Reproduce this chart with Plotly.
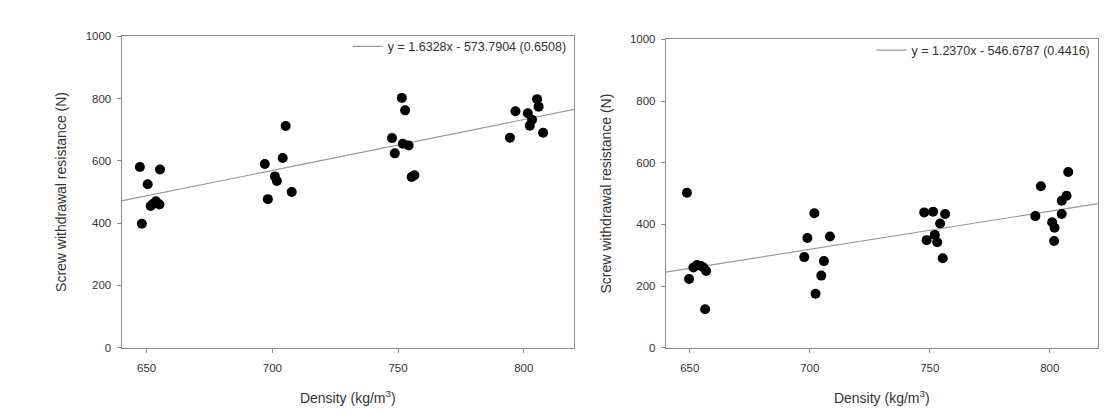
import plotly.graph_objects as go

# Left panel data
left_density = [647.3, 650.4, 655.3, 651.6, 653.7, 655.1, 648.1, 652.6,
                697.0, 701.0, 701.8, 704.1, 705.3, 698.2, 707.7,
                751.5, 752.8, 747.6, 748.7, 751.9, 754.2, 755.4, 756.5,
                796.7, 801.6, 803.3, 802.4, 805.3, 805.9, 794.5, 807.7]
left_resist = [580, 525, 572, 455, 470, 460, 398, 462,
               590, 550, 535, 609, 712, 477, 500,
               802, 762, 673, 624, 655, 649, 548, 554,
               759, 753, 732, 713, 798, 774, 674, 690]
left_slope, left_intercept, left_r2 = 1.6328, -573.7904, 0.6508

# Right panel data
right_density = [648.8, 649.7, 651.5, 653.0, 654.7, 656.8, 656.4, 655.7,
                 697.7, 699.0, 701.9, 702.4, 704.8, 705.9, 708.4,
                 747.7, 751.4, 748.7, 752.1, 753.1, 754.3, 755.4, 756.4,
                 796.3, 794.0, 801.0, 802.0, 801.8, 805.0, 805.0, 807.0, 807.7]
right_resist = [503, 223, 260, 268, 265, 249, 125, 260,
                294, 356, 436, 175, 234, 281, 361,
                439, 441, 349, 366, 342, 403, 290, 434,
                524, 427, 407, 389, 346, 434, 477, 493, 570]
right_slope, right_intercept, right_r2 = 1.2370, -546.6787, 0.4416

x_ticks = [650, 700, 750, 800]
y_ticks = [0, 200, 400, 600, 800, 1000]
x_range = [640, 820]
y_range = [0, 1000]

font_family = "Liberation Sans, Arial, sans-serif"
text_color = "#333333"
frame_color = "#8a8a8a"

fig = go.Figure()


def eq_label(s, b, r2):
    sign = "-" if b < 0 else "+"
    return f"y = {s:.4f}x {sign} {abs(b):.4f} ({r2:.4f})"


for i, (xs, ys, s, b, r2) in enumerate([
        (left_density, left_resist, left_slope, left_intercept, left_r2),
        (right_density, right_resist, right_slope, right_intercept, right_r2)]):
    xa = "x" if i == 0 else "x2"
    ya = "y" if i == 0 else "y2"
    lg = "legend" if i == 0 else "legend2"
    fig.add_trace(go.Scatter(
        x=x_range, y=[s * x_range[0] + b, s * x_range[1] + b],
        mode="lines", line=dict(color="#9a9a9a", width=1.2),
        name=eq_label(s, b, r2), xaxis=xa, yaxis=ya, legend=lg,
        showlegend=True))
    fig.add_trace(go.Scatter(
        x=xs, y=ys, mode="markers",
        marker=dict(color="black", size=10),
        xaxis=xa, yaxis=ya, showlegend=False))

axis_common = dict(
    showline=True, linecolor=frame_color, linewidth=1, mirror=True,
    showgrid=False, zeroline=False, ticks="outside", ticklen=4,
    tickcolor=frame_color, tickfont=dict(size=11.5, color=text_color, family=font_family),
)
xtitle = dict(text="Density (kg/m<sup>3</sup>)", font=dict(size=14), standoff=20)
ytitle = dict(text="Screw withdrawal resistance (N)", font=dict(size=14), standoff=15)

fig.update_layout(
    width=1119, height=415,
    margin=dict(l=0, r=0, t=0, b=0),
    paper_bgcolor="white", plot_bgcolor="white",
    font=dict(family=font_family, color=text_color),
    xaxis=dict(domain=[0.1086, 0.513], range=x_range, tickvals=x_ticks,
               title=xtitle, anchor="y", ticklabelstandoff=5, **axis_common),
    yaxis=dict(domain=[0.152, 0.925], range=y_range, tickvals=y_ticks,
               title=ytitle, anchor="x", ticklabelstandoff=3, **axis_common),
    xaxis2=dict(domain=[0.595, 0.981], range=x_range, tickvals=x_ticks,
                title=xtitle, anchor="y2", ticklabelstandoff=5, **axis_common),
    yaxis2=dict(domain=[0.152, 0.917], range=y_range, tickvals=y_ticks,
                title=ytitle, anchor="x2", ticklabelstandoff=3, **axis_common),
    legend=dict(x=0.511, y=0.936, xanchor="right", yanchor="top",
                bgcolor="rgba(0,0,0,0)", font=dict(size=12.5, color=text_color),
                itemwidth=30, tracegroupgap=0),
    legend2=dict(x=0.979, y=0.927, xanchor="right", yanchor="top",
                 bgcolor="rgba(0,0,0,0)", font=dict(size=12.5, color=text_color),
                 itemwidth=30, tracegroupgap=0),
)

fig.write_html("out.html")
